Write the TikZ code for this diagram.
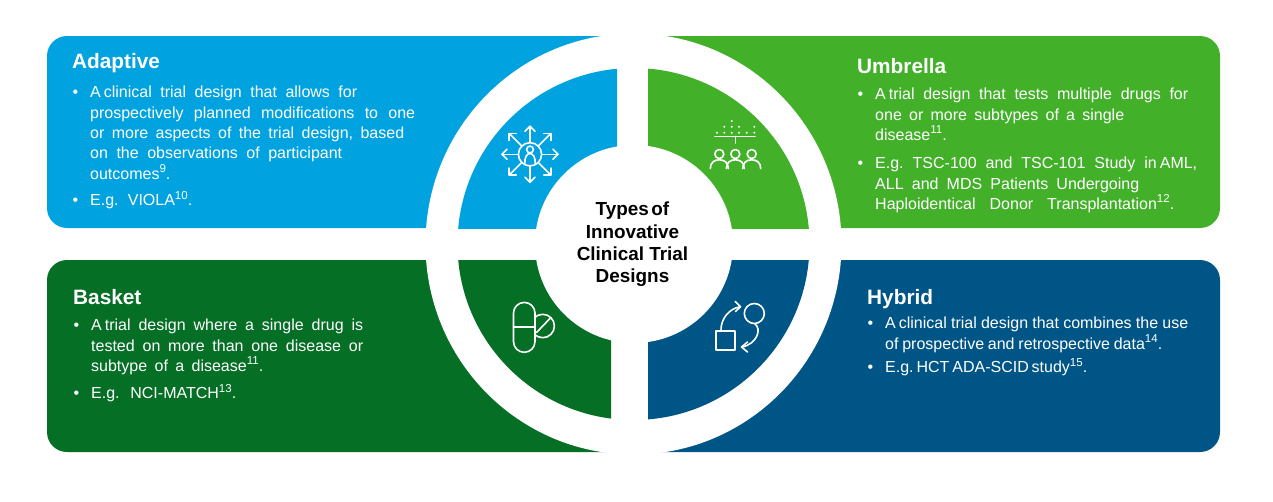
\documentclass[tikz,border=0pt]{standalone}
\usepackage{fontspec}
\setmainfont{Liberation Sans}
\usetikzlibrary{arrows.meta}
\definecolor{cblue}{HTML}{00A3E0}
\definecolor{cgreen}{HTML}{43B02A}
\definecolor{cdark}{HTML}{056F26}
\definecolor{cnavy}{HTML}{005587}
\newcommand{\jl}[2]{\hbox to #1pt{\spaceskip=.25em plus 1fil minus .12em\relax #2}}
\newcommand{\bl}[2]{\hbox to #1pt{\spaceskip=.25em plus 1fil minus .12em\relax\llap{\textbullet\hskip 12pt}#2}}
\newcommand{\sy}[1]{\raisebox{.42em}{\fontsize{11.5}{11.5}\selectfont #1}}
\newcommand{\na}{\hskip 3pt}
\tikzset{
  panel/.style={rounded corners=20pt},
  title/.style={anchor=base west,inner sep=0pt,text=white,font=\fontsize{20.8}{24}\selectfont\bfseries},
  body/.style={anchor=north west,inner sep=0pt,text=white,align=left,font=\fontsize{16}{20.4}\selectfont\frenchspacing},
  icon/.style={draw=white,line width=1.6pt,line cap=round,line join=round},
  dotm/.style={fill=white,draw=none}
}
\begin{document}
\begin{tikzpicture}[x=1pt,y=-1pt]
\useasboundingbox (0,0) rectangle (1273,501);
\fill[white] (0,0) rectangle (1273,501);
% outer panels
\fill[cblue,rounded corners=20pt] (640,36) -- (47,36) -- (47,228) -- (640,228) [sharp corners] -- cycle;
\fill[cgreen,rounded corners=20pt] (630,36) -- (1220,36) -- (1220,228) -- (630,228) [sharp corners] -- cycle;
\fill[cdark,rounded corners=20pt] (640,260) -- (47,260) -- (47,452) -- (640,452) [sharp corners] -- cycle;
\fill[cnavy,rounded corners=20pt] (630,260) -- (1220,260) -- (1220,452) -- (630,452) [sharp corners] -- cycle;
% white ring
\fill[white] (633.5,244) ellipse [x radius=208,y radius=210.5];
% inner quadrants
\begin{scope}\clip (440,50) rectangle (617,228); \fill[cblue] (633.5,244) circle [radius=176]; \end{scope}
\begin{scope}\clip (648,50) rectangle (830,228); \fill[cgreen] (633.5,244) circle [radius=176]; \end{scope}
\begin{scope}\clip (440,260) rectangle (611,440); \fill[cdark] (633.5,244) circle [radius=176]; \end{scope}
\begin{scope}\clip (648,260) rectangle (830,440); \fill[cnavy] (633.5,244) circle [radius=176]; \end{scope}
% centre
\node[circle,fill=white,minimum size=198pt,inner sep=0pt] (disc) at (634,244) {};
\node[inner sep=0pt,align=center,text=black,font=\fontsize{18.9}{22.3}\selectfont\bfseries] (centre) at (632.5,244.5) {\hbox to 0pt{\hss Types\hskip 2.5pt of\hss}\\Innovative\\Clinical Trial\\Designs};
% Adaptive text
\node[title] (tA) at (72,68.5) {Adaptive};
\node[body] (a1) at (90,86) {\bl{267}{A\na clinical trial design that allows for}\\\jl{325}{prospectively planned modifications to one}\\\jl{314}{or more aspects of the trial design, based}\\\jl{252}{on the observations of participant}\\\jl{81}{outcomes\sy{9}.}};
\node[body] (a2) at (90,191) {\bl{102}{E.g. VIOLA\sy{10}.}};
% Umbrella text
\node[title] (tU) at (857,73) {Umbrella};
\node[body] (u1) at (875,88) {\bl{313}{A\na trial design that tests multiple drugs for}\\\jl{249}{one or more subtypes of a single}\\\jl{74}{disease\sy{11}.}};
\node[body] (u2) at (875,157) {\bl{322}{E.g. TSC-100 and TSC-101 Study in\na AML,}\\\jl{264}{ALL and MDS Patients Undergoing}\\\jl{299}{Haploidentical Donor Transplantation\sy{12}.}};
% Basket text
\node[title] (tB) at (73,304) {Basket};
\node[body] (b1) at (91,319) {\bl{272}{A\na trial design where a single drug is}\\\jl{272}{tested on more than one disease or}\\\jl{172}{subtype of a disease\sy{11}.}};
\node[body] (b2) at (91,384) {\bl{145}{E.g. NCI-MATCH\sy{13}.}};
% Hybrid text
\node[title] (tH) at (867,304) {Hybrid};
\node[body] (h1) at (885,317) {\bl{303}{A\na clinical trial design that combines the use}\\\jl{277}{of prospective and retrospective data\sy{14}.}};
\node[body] (h2) at (885,358) {\bl{202}{E.g. HCT ADA-SCID study\sy{15}.}};
% Adaptive icon
\begin{scope}[shift={(530,154.3)}]
  \draw[icon] (0,0) circle [radius=11.6];
  \draw[icon] (0,-4.8) circle [radius=3.4];
  \draw[icon] (-5.2,9.5) .. controls (-5.6,3) and (-3,-0.8) .. (0,-0.8) .. controls (3,-0.8) and (5.6,3) .. (5.2,9.5);
  \foreach \a in {0,90,180,270} {
    \begin{scope}[rotate=\a]
      \draw[icon] (11.6,0) -- (28,0);
      \draw[icon] (23,-5) -- (28,0) -- (23,5);
    \end{scope}
  }
  \foreach \a in {45,135,225,315} {
    \begin{scope}[rotate=\a]
      \draw[icon] (11.6,0) -- (29.5,0);
      \draw[icon] (24.5,-5) -- (29.5,0) -- (24.5,5);
    \end{scope}
  }
\end{scope}
% Umbrella icon
\draw[icon] (715,136.5) -- (755,136.5);
\draw[icon] (735.3,136.5) -- (735.3,143);
\foreach \x in {717,724.3,731.7,739,746.7,754.3} \fill[dotm] (\x,132.7) circle [radius=1.1];
\foreach \x in {724.3,731.7,739,754.3} \fill[dotm] (\x,126.8) circle [radius=1.1];
\fill[dotm] (731.7,121) circle [radius=1.1];
\foreach \x in {719.3,735.3,751.7} {
  \draw[icon] (\x,154) circle [radius=4.5];
  \draw[icon] (\x-9,168.6) .. controls (\x-9,162.5) and (\x-5,159.8) .. (\x,159.8) .. controls (\x+5,159.8) and (\x+9,162.5) .. (\x+9,168.6);
}
% Basket icon
\draw[icon] (513.5,326.7) -- (535,326.7);
\draw[icon,rounded corners=10.7pt] (513.5,302.4) rectangle (535,352.3);
\begin{scope}\clip (535.4,300) rectangle (560,345);
  \draw[icon] (542.7,326) circle [radius=11.7];
\end{scope}
\draw[icon] (536.7,332.3) -- (550.7,317.7);
% Hybrid icon
\draw[icon,line cap=butt] (715.7,331.2) rectangle (735,350);
\draw[icon] (754.3,313.5) circle [radius=10];
\draw[icon] (721,329.5) .. controls (721,319) and (729,308.5) .. (740,306.8);
\draw[icon] (735.3,301.5) -- (740.5,306.7) -- (735.5,311.5);
\draw[icon] (755,324) .. controls (762,329) and (757,344) .. (742,347);
\draw[icon] (747.5,342) -- (741.5,347) -- (747.5,352);
\end{tikzpicture}
\end{document}
